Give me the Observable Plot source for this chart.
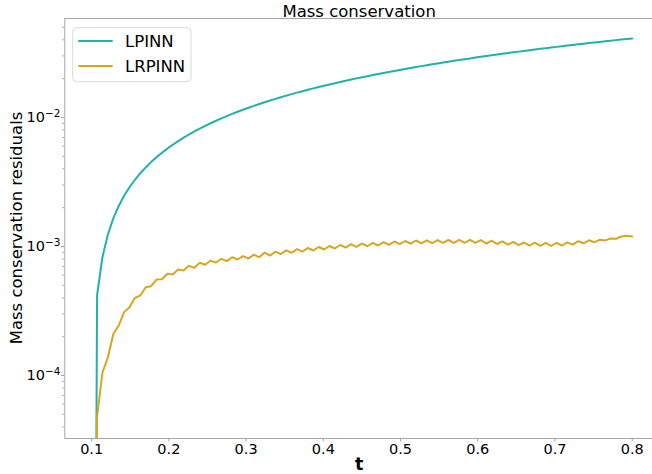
<!DOCTYPE html>
<html><head><meta charset="utf-8">
<script src="https://cdn.jsdelivr.net/npm/d3@7"></script>
<script src="https://cdn.jsdelivr.net/npm/@observablehq/plot@0.6"></script>
<style>
html,body{margin:0;padding:0;background:#fff;}
#chart svg{display:block;}
</style></head><body><div id="chart"></div>
<script>
const title = "Mass conservation";
const xLabel = "t";
const yLabel = "Mass conservation residuals";
const seriesNames = ["LPINN", "LRPINN"];
const seriesColors = ["lightseagreen", "goldenrod"];
const xTicks = [0.1, 0.2, 0.3, 0.4, 0.5, 0.6, 0.7, 0.8];
const yTicks = [1e-4, 1e-3, 1e-2];
const xDomain = [0.0652, 0.8263];
const yDomain = [3.25e-5, 0.0585];

const t = [0.1,0.107,0.114,0.121,0.128,0.135,0.142,0.149,0.156,0.163,0.17,0.177,0.184,0.191,0.198,0.205,0.212,0.219,0.226,0.233,0.24,0.247,0.254,0.261,0.268,0.275,0.282,0.289,0.296,0.303,0.31,0.317,0.324,0.331,0.338,0.345,0.352,0.359,0.366,0.373,0.38,0.387,0.394,0.401,0.408,0.415,0.422,0.429,0.436,0.443,0.45,0.457,0.464,0.471,0.478,0.485,0.492,0.499,0.506,0.513,0.52,0.527,0.534,0.541,0.548,0.555,0.562,0.569,0.576,0.583,0.59,0.597,0.604,0.611,0.618,0.625,0.632,0.639,0.646,0.653,0.66,0.667,0.674,0.681,0.688,0.695,0.702,0.709,0.716,0.723,0.73,0.737,0.744,0.751,0.758,0.765,0.772,0.779,0.786,0.793,0.8];

const lpinn = [0,0.00042,0.00083,0.00124,0.00165,0.00206,0.00247,0.00288,0.00329,0.0037,0.0041,0.00451,0.00492,0.00533,0.00574,0.00615,0.00656,0.00697,0.00738,0.00779,0.0082,0.00861,0.00902,0.00943,0.00984,0.01025,0.01066,0.01107,0.01148,0.01189,0.0123,0.01271,0.01312,0.01353,0.01394,0.01435,0.01476,0.01517,0.01558,0.01599,0.0164,0.01681,0.01722,0.01763,0.01804,0.01845,0.01886,0.01927,0.01968,0.02009,0.0205,0.02091,0.02132,0.02173,0.02214,0.02255,0.02296,0.02337,0.02378,0.02419,0.0246,0.02501,0.02542,0.02583,0.02624,0.02665,0.02706,0.02747,0.02788,0.02829,0.0287,0.02911,0.02952,0.02993,0.03034,0.03075,0.03116,0.03157,0.03198,0.03239,0.0328,0.03321,0.03362,0.03403,0.03444,0.03485,0.03526,0.03567,0.03608,0.03649,0.0369,0.03731,0.03772,0.03813,0.03854,0.03895,0.03936,0.03977,0.04018,0.04059,0.041];

const lrpinn = [0,4.8e-5,1.06e-4,1.38e-4,2.10e-4,2.44e-4,3.10e-4,3.38e-4,4.00e-4,4.17e-4,4.83e-4,4.92e-4,5.54e-4,5.58e-4,6.14e-4,6.07e-4,6.64e-4,6.52e-4,7.08e-4,6.84e-4,7.48e-4,7.22e-4,7.78e-4,7.51e-4,8.03e-4,7.70e-4,8.26e-4,7.93e-4,8.41e-4,8.07e-4,8.63e-4,8.26e-4,8.98e-4,8.50e-4,9.12e-4,8.75e-4,9.33e-4,8.94e-4,9.53e-4,9.13e-4,9.74e-4,9.31e-4,9.91e-4,9.48e-4,1.009e-3,9.65e-4,1.027e-3,9.81e-4,1.042e-3,9.93e-4,1.055e-3,1.005e-3,1.068e-3,1.018e-3,1.080e-3,1.031e-3,1.093e-3,1.042e-3,1.103e-3,1.051e-3,1.113e-3,1.057e-3,1.117e-3,1.061e-3,1.121e-3,1.065e-3,1.123e-3,1.066e-3,1.125e-3,1.068e-3,1.127e-3,1.065e-3,1.119e-3,1.055e-3,1.109e-3,1.046e-3,1.097e-3,1.035e-3,1.086e-3,1.024e-3,1.074e-3,1.016e-3,1.070e-3,1.013e-3,1.066e-3,1.009e-3,1.068e-3,1.018e-3,1.078e-3,1.033e-3,1.099e-3,1.059e-3,1.117e-3,1.080e-3,1.127e-3,1.115e-3,1.154e-3,1.148e-3,1.195e-3,1.209e-3,1.195e-3];

// like matplotlib's log "clip": non-positive values are sent far below the axis
const logFloor = 1e-12;

const seriesValues = [lpinn, lrpinn];
const rows = [];
seriesNames.forEach((name, i) => {
  t.forEach((tv, j) => rows.push({t: tv, v: seriesValues[i][j], series: name}));
});

const minorTicks = [];
for (let e = -5; e <= -2; e++) for (let m = 2; m <= 9; m++) {
  const v = m * Math.pow(10, e);
  if (v > yDomain[0] && v < yDomain[1]) minorTicks.push(v);
}
const expOf = d => Math.round(Math.log10(d));

const W = 652, H = 474;
const mL = 64.3, mR = 0, mT = 18, mB = 36;
const spine = "#a6a6a6";
const font = "DejaVu Sans, sans-serif";
const tickFont = 14.5;

const chart = Plot.plot({
  width: W, height: H,
  marginLeft: mL, marginRight: mR, marginTop: mT, marginBottom: mB,
  style: {fontFamily: font, fontSize: tickFont + "px", color: "#000", background: "#fff", overflow: "visible"},
  x: {domain: xDomain, label: null},
  y: {type: "log", domain: yDomain, label: null},
  color: {domain: seriesNames, range: seriesColors},
  marks: [
    Plot.axisX(xTicks, {tickSize: 3.5, tickPadding: 1.5, stroke: spine, fill: "#000", tickFormat: d => d.toFixed(1), fontSize: tickFont, label: null}),
    Plot.axisY(yTicks, {tickSize: 3.5, tickPadding: 1, stroke: spine, fill: "#000", tickFormat: d => "10|" + expOf(d), fontSize: tickFont, label: null}),
    Plot.axisY(minorTicks, {tickSize: 2, stroke: spine, tickFormat: () => "", label: null}),
    Plot.ruleX([xDomain[0]], {stroke: spine}),
    Plot.ruleY(yDomain, {stroke: spine}),
    Plot.line(rows, {x: "t", y: d => d.v > 0 ? d.v : logFloor, z: "series", stroke: "series", strokeWidth: 2, clip: true})
  ]
});

document.getElementById("chart").appendChild(chart);
const svg = d3.select(chart);

// turn "10|-2" tick labels into 10 with a real superscript exponent
svg.selectAll("text").each(function() {
  const s = this.textContent;
  if (/^10\|-?\d+$/.test(s)) {
    const [base, ex] = s.split("|");
    const el = d3.select(this);
    el.text(null);
    el.append("tspan").text(base);
    el.append("tspan").attr("dy", "-0.48em").attr("font-size", "72%").text(ex.replace("-", "\u2212"));
  }
});

svg.append("text").attr("x", (mL + W - mR) / 2 + 1).attr("y", 16.5)
  .attr("text-anchor", "middle").attr("font-family", font).attr("font-size", 16.5).attr("fill", "#000").text(title);
svg.append("text").attr("transform", `translate(22,${(mT + H - mB) / 2}) rotate(-90)`)
  .attr("text-anchor", "middle").attr("font-family", font).attr("font-size", 16.5).attr("fill", "#000").text(yLabel);
svg.append("text").attr("x", (mL + W - mR) / 2 + 1).attr("y", 470)
  .attr("text-anchor", "middle").attr("font-family", font).attr("font-size", 17.5).attr("font-weight", "bold").attr("fill", "#000").text(xLabel);

const lg = svg.append("g");
lg.append("rect").attr("x", 72.7).attr("y", 27.7).attr("width", 118.3).attr("height", 54).attr("rx", 4)
  .attr("fill", "#fff").attr("fill-opacity", 0.8).attr("stroke", "#d9d9d9");
seriesNames.forEach((name, i) => {
  const yy = 41 + i * 25;
  lg.append("line").attr("x1", 78.3).attr("x2", 112.7).attr("y1", yy).attr("y2", yy)
    .attr("stroke", seriesColors[i]).attr("stroke-width", 2);
  lg.append("text").attr("x", 125).attr("y", yy + 6).attr("text-anchor", "start").attr("font-family", font).attr("font-size", 16.5)
    .attr("fill", "#000").text(name);
});
</script></body></html>
